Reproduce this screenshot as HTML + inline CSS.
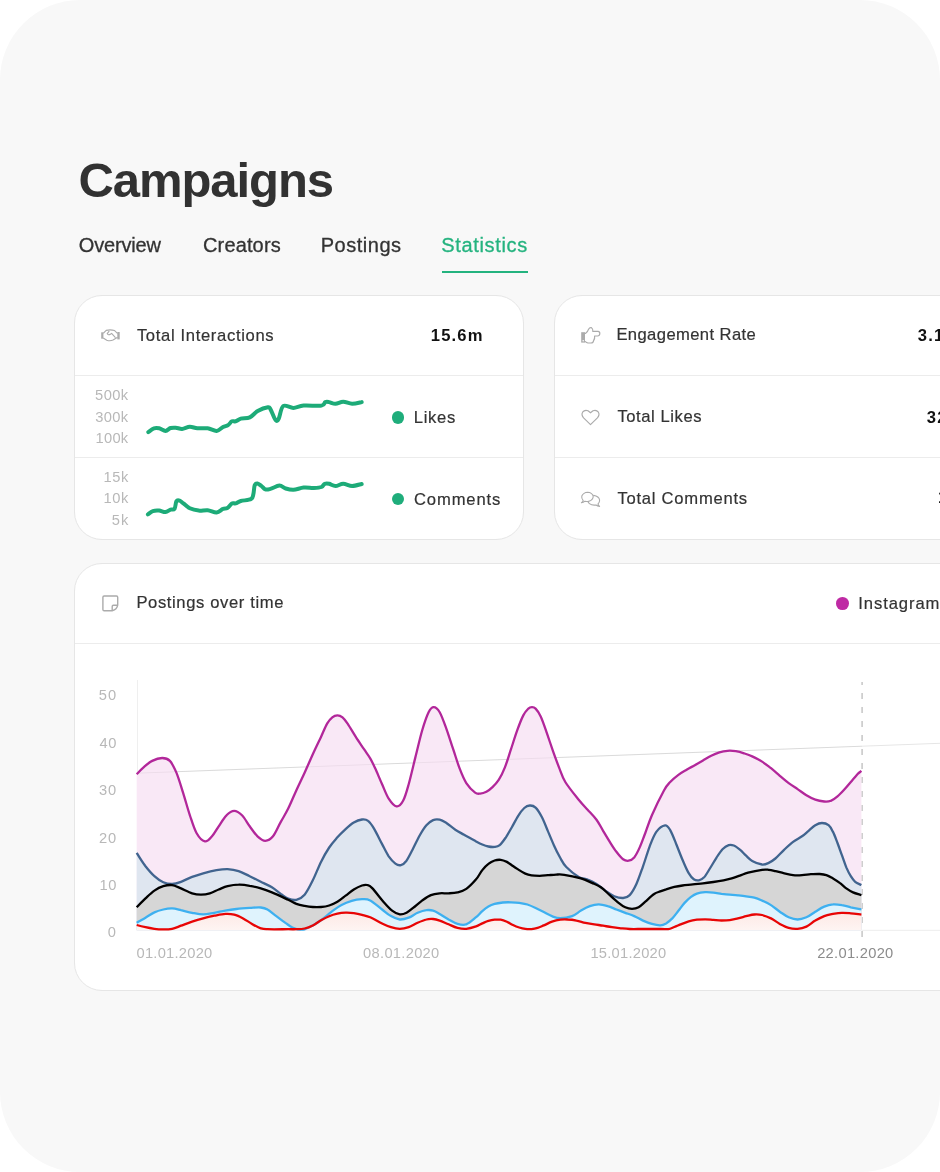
<!DOCTYPE html>
<html lang="en">
<head>
<meta charset="utf-8">
<title>Campaigns – Statistics</title>
<style>
html,body{margin:0;padding:0;background:#ffffff}
body{width:940px;height:1172px;position:relative;overflow:hidden;font-family:"Liberation Sans",sans-serif}
.frame{position:absolute;left:0;top:0;width:940px;height:1172px;background:#f8f8f8;border-radius:80px;overflow:hidden}
.abs{position:absolute}
.card{position:absolute;box-sizing:border-box;background:#ffffff;border:1px solid #e6e6e6;border-radius:28px}
.hr{position:absolute;left:0;right:0;height:1px;background:#ececec}
.t{position:absolute;white-space:nowrap;line-height:1;margin:0}
.dot{position:absolute;border-radius:50%}
.tab{-webkit-text-stroke:0.3px currentColor}
.lb{-webkit-text-stroke:0.2px currentColor}
.uline{position:absolute;left:442.4px;top:271.3px;width:85.5px;height:1.6px;background:#24b37f}
#t_title{left:78.40px;top:156.00px;font-size:49px;font-weight:700;color:#323232;letter-spacing:-1.064px}
#t_tab1{left:78.80px;top:235.00px;font-size:20px;font-weight:400;color:#333333;letter-spacing:-0.187px}
#t_tab2{left:203.00px;top:235.00px;font-size:20px;font-weight:400;color:#333333;letter-spacing:0.143px}
#t_tab3{left:320.75px;top:235.00px;font-size:20px;font-weight:400;color:#333333;letter-spacing:0.509px}
#t_tab4{left:441.21px;top:235.00px;font-size:20px;font-weight:400;color:#24b37f;letter-spacing:0.661px}
#t_ti{left:136.88px;top:328.00px;font-size:16.6px;font-weight:400;color:#333333;letter-spacing:0.665px}
#t_tiv{left:430.80px;top:328.00px;font-size:16.6px;font-weight:700;color:#111;letter-spacing:1.158px}
#t_a1{left:95.12px;top:388.00px;font-size:14.7px;font-weight:400;color:#b8b8b8;letter-spacing:0.378px}
#t_a2{left:95.24px;top:410.00px;font-size:14.7px;font-weight:400;color:#b8b8b8;letter-spacing:0.342px}
#t_a3{left:95.60px;top:431.00px;font-size:14.7px;font-weight:400;color:#b8b8b8;letter-spacing:0.230px}
#t_b1{left:103.60px;top:470.00px;font-size:14.7px;font-weight:400;color:#b8b8b8;letter-spacing:0.500px}
#t_b2{left:103.60px;top:491.00px;font-size:14.7px;font-weight:400;color:#b8b8b8;letter-spacing:0.500px}
#t_b3{left:111.81px;top:513.00px;font-size:14.7px;font-weight:400;color:#b8b8b8;letter-spacing:0.910px}
#t_likes{left:413.80px;top:410.00px;font-size:16.6px;font-weight:400;color:#333333;letter-spacing:0.699px}
#t_comm{left:414.00px;top:492.00px;font-size:16.6px;font-weight:400;color:#333333;letter-spacing:0.874px}
#t_er{left:616.40px;top:327.00px;font-size:16.6px;font-weight:400;color:#333333;letter-spacing:0.401px}
#t_tl{left:617.38px;top:409.00px;font-size:16.6px;font-weight:400;color:#333333;letter-spacing:0.571px}
#t_tc{left:617.38px;top:491.00px;font-size:16.6px;font-weight:400;color:#333333;letter-spacing:0.762px}
#t_erv{left:917.82px;top:328.00px;font-size:16.6px;font-weight:700;color:#111;letter-spacing:1.150px}
#t_tlv{left:926.82px;top:410.00px;font-size:16.6px;font-weight:700;color:#111;letter-spacing:1.150px}
#t_tcv{left:937.90px;top:490.00px;font-size:16.6px;font-weight:700;color:#111;letter-spacing:1.150px}
#t_pot{left:136.40px;top:595.00px;font-size:16.6px;font-weight:400;color:#333333;letter-spacing:0.618px}
#t_ig{left:858.19px;top:596.00px;font-size:16.6px;font-weight:400;color:#333333;letter-spacing:0.934px}
#t_y50{left:98.81px;top:688.00px;font-size:14.7px;font-weight:400;color:#b8b8b8;letter-spacing:1.010px}
#t_y40{left:99.41px;top:736.00px;font-size:14.7px;font-weight:400;color:#b8b8b8;letter-spacing:0.615px}
#t_y30{left:98.94px;top:783.00px;font-size:14.7px;font-weight:400;color:#b8b8b8;letter-spacing:0.900px}
#t_y20{left:98.94px;top:831.00px;font-size:14.7px;font-weight:400;color:#b8b8b8;letter-spacing:0.900px}
#t_y10{left:99.40px;top:878.00px;font-size:14.7px;font-weight:400;color:#b8b8b8;letter-spacing:0.705px}
#t_y0{left:107.78px;top:925.00px;font-size:14.7px;font-weight:400;color:#b8b8b8;letter-spacing:0.000px}
#t_x1{left:136.47px;top:946.00px;font-size:14.7px;font-weight:400;color:#b8b8b8;letter-spacing:0.251px}
#t_x2{left:363.08px;top:946.00px;font-size:14.7px;font-weight:400;color:#b8b8b8;letter-spacing:0.294px}
#t_x3{left:590.40px;top:946.00px;font-size:14.7px;font-weight:400;color:#b8b8b8;letter-spacing:0.249px}
#t_x4{left:817.13px;top:946.00px;font-size:14.7px;font-weight:400;color:#8c8c8c;letter-spacing:0.292px}
</style>
</head>
<body>
<div class="frame">
  <h1 style="margin:0"><span class="t" id="t_title">Campaigns</span></h1>
  <nav>
    <span class="t tab" id="t_tab1">Overview</span><span class="t tab" id="t_tab2">Creators</span><span class="t tab" id="t_tab3">Postings</span><span class="t tab" id="t_tab4">Statistics</span>
    <div class="uline"></div>
  </nav>

  <section class="card" style="left:74px;top:295px;width:450px;height:245px">
    <div class="hr" style="top:79px"></div>
    <div class="hr" style="top:161px"></div>
  </section>
  <section class="card" style="left:554px;top:295px;width:450px;height:245px">
    <div class="hr" style="top:79px"></div>
    <div class="hr" style="top:161px"></div>
  </section>
  <section class="card" style="left:74px;top:563px;width:930px;height:428px">
    <div class="hr" style="top:79px"></div>
  </section>

  
<svg class="abs" style="left:0;top:0" width="940" height="1172" viewBox="0 0 940 1172">
  <defs>
    <linearGradient id="redfill" gradientUnits="userSpaceOnUse" x1="0" y1="908" x2="0" y2="931">
      <stop offset="0" stop-color="#fde6e2"/>
      <stop offset="1" stop-color="#fef5f3"/>
    </linearGradient>
  </defs>
  <g fill="none">
    <path d="M137.5 680V930" stroke="#efefef" stroke-width="1"/>
    <path d="M862 930.3H940" stroke="#ededed" stroke-width="1"/>
    <path d="M137 773.2L940 743.3" stroke="#e6e6e6" stroke-width="1"/>
    <path d="M862.1 682V937" stroke="#c9c9c9" stroke-width="1.6" stroke-dasharray="6 8" stroke-dashoffset="3"/>
  </g>
  <g stroke="none">
    <path d="M136.7 774.2C137.8 773.1 140.7 769.8 143.3 767.6C145.9 765.4 149.0 762.5 152.2 760.9C155.3 759.3 159.2 758.0 162.2 758.0C165.1 758.0 167.5 758.4 169.9 760.9C172.3 763.4 174.3 767.8 176.6 773.1C178.8 778.5 181.0 786.1 183.2 793.1C185.4 800.1 187.6 808.6 189.9 815.3C192.1 821.9 194.0 828.6 196.5 833.0C199.0 837.4 202.4 840.9 204.9 841.4C207.5 842.0 209.7 838.8 212.0 836.3C214.3 833.8 216.3 829.9 218.7 826.3C221.1 822.8 223.9 817.8 226.5 815.3C229.0 812.7 231.6 810.8 234.2 810.8C236.8 810.8 239.4 812.7 242.0 815.3C244.6 817.8 247.1 822.8 249.7 826.3C252.3 829.9 254.9 833.9 257.5 836.3C260.1 838.7 262.7 840.8 265.3 840.8C267.8 840.8 270.4 839.5 273.0 836.3C275.6 833.2 278.2 826.5 280.8 821.9C283.3 817.3 285.6 813.9 288.2 808.6C290.8 803.3 293.7 796.2 296.4 790.2C299.1 784.2 301.9 778.7 304.6 772.7C307.3 766.7 310.1 760.3 312.8 754.3C315.5 748.3 318.6 742.0 321.0 736.9C323.4 731.8 325.2 726.9 327.1 723.6C329.0 720.4 330.6 718.8 332.3 717.4C334.0 716.0 335.7 715.4 337.4 715.4C339.1 715.4 340.8 716.0 342.5 717.4C344.2 718.8 345.4 720.4 347.6 723.6C349.8 726.9 353.1 732.6 355.8 736.9C358.5 741.2 361.6 745.6 364.0 749.2C366.4 752.8 368.3 755.2 370.2 758.4C372.1 761.6 373.3 764.3 375.3 768.6C377.3 772.9 379.8 779.2 382.1 784.2C384.3 789.2 386.3 794.9 388.7 798.6C391.1 802.3 394.1 806.0 396.5 806.4C398.9 806.8 401.1 804.5 403.1 800.8C405.2 797.1 406.7 791.4 408.7 784.2C410.7 777.0 413.1 766.5 415.3 757.6C417.6 748.7 419.8 738.6 422.0 731.0C424.2 723.4 426.7 716.1 428.6 712.2C430.6 708.2 431.9 707.1 433.7 707.1C435.6 707.1 437.6 708.5 439.7 712.2C441.8 715.8 444.2 722.7 446.4 728.8C448.6 734.9 450.8 742.1 453.0 748.7C455.3 755.4 457.5 763.0 459.7 768.7C461.9 774.4 463.8 779.1 466.3 783.1C468.9 787.1 472.8 790.9 475.1 792.6C477.4 794.3 478.3 793.7 480.2 793.6C482.1 793.5 484.3 792.9 486.4 791.8C488.4 790.7 490.4 789.1 492.5 787.1C494.6 785.1 496.6 783.1 498.7 779.9C500.8 776.6 502.8 772.7 504.8 767.6C506.9 762.5 508.9 755.4 511.0 749.2C513.0 743.1 515.1 736.3 517.1 730.7C519.1 725.1 521.4 719.1 523.3 715.4C525.2 711.7 527.0 710.0 528.4 708.6C529.8 707.2 530.7 707.2 531.9 707.2C533.1 707.2 534.1 707.1 535.6 708.6C537.1 710.1 538.8 712.4 540.7 716.4C542.6 720.4 544.8 727.0 546.8 732.8C548.8 738.6 551.0 745.4 553.0 751.2C555.0 757.0 557.1 762.5 559.1 767.6C561.1 772.7 562.0 776.6 565.3 782.0C568.6 787.4 575.0 795.1 578.7 799.7C582.5 804.4 584.6 806.4 587.6 809.7C590.6 813.0 593.9 816.2 596.5 819.7C599.1 823.2 600.9 827.1 603.1 830.8C605.3 834.5 607.6 838.4 609.8 841.9C612.0 845.4 614.2 849.0 616.4 851.8C618.6 854.7 621.0 857.7 623.1 859.2C625.1 860.6 626.8 861.0 628.6 860.7C630.5 860.4 632.3 859.6 634.2 857.4C636.0 855.2 637.9 851.5 639.7 847.4C641.6 843.3 643.2 838.4 645.3 833.0C647.3 827.6 648.8 822.4 651.9 815.3C655.0 808.1 661.1 795.7 664.1 790.2C667.1 784.7 667.8 784.6 670.2 782.0C672.6 779.4 675.7 776.8 678.4 774.8C681.1 772.8 683.9 771.3 686.6 769.7C689.3 768.1 692.1 766.7 694.8 765.2C697.5 763.7 700.3 762.1 703.0 760.5C705.7 758.9 708.5 757.1 711.2 755.7C713.9 754.3 716.7 753.1 719.4 752.3C722.1 751.5 724.9 751.0 727.6 750.8C730.3 750.6 733.1 750.8 735.8 751.2C738.5 751.6 741.3 752.4 744.0 753.3C746.7 754.2 749.2 755.0 752.2 756.4C755.2 757.8 759.0 759.6 762.1 761.6C765.2 763.6 768.0 765.9 771.0 768.2C773.9 770.6 776.9 773.3 779.8 775.8C782.8 778.3 785.7 780.9 788.7 783.1C791.6 785.3 794.6 787.1 797.6 789.1C800.5 791.1 803.5 793.5 806.4 795.3C809.4 797.1 812.3 798.7 815.3 799.7C818.3 800.8 821.6 801.3 824.2 801.5C826.8 801.7 828.6 801.7 830.8 800.8C833.0 800.0 835.3 798.3 837.5 796.4C839.7 794.6 841.9 792.2 844.1 789.8C846.3 787.4 848.6 784.6 850.8 782.0C853.0 779.4 855.7 776.1 857.4 774.2C859.2 772.4 860.8 771.5 861.4 770.9L861.4 930.3L136.7 930.3Z" fill="#f9e8f6"/>
    <path d="M136.7 852.9C138.1 855.2 142.6 862.4 145.5 866.3C148.5 870.1 151.4 873.6 154.4 876.2C157.3 878.9 160.3 880.9 163.3 882.2C166.2 883.5 169.2 884.1 172.1 884.0C175.1 883.9 177.7 883.0 181.0 881.8C184.3 880.6 188.4 878.3 192.1 876.9C195.8 875.5 199.1 874.5 203.2 873.3C207.2 872.2 212.4 870.9 216.5 870.2C220.5 869.5 223.9 869.0 227.6 869.1C231.3 869.3 235.0 869.9 238.6 871.1C242.3 872.3 246.0 874.5 249.7 876.2C253.4 878.0 257.1 879.9 260.8 881.8C264.5 883.6 268.6 885.3 271.9 887.3C275.2 889.3 278.1 892.1 280.8 894.0C283.5 895.8 285.6 897.6 288.2 898.6C290.8 899.6 293.7 900.4 296.4 899.8C299.1 899.1 301.9 898.0 304.6 894.7C307.3 891.5 310.1 885.8 312.8 880.3C315.5 874.8 318.3 867.4 321.0 861.9C323.7 856.4 326.5 851.6 329.2 847.5C331.9 843.4 334.7 840.4 337.4 837.3C340.1 834.2 342.9 831.6 345.6 829.1C348.3 826.6 351.1 824.1 353.8 822.5C356.5 820.9 359.6 819.8 362.0 819.5C364.4 819.2 366.1 819.3 368.1 820.9C370.2 822.5 372.0 825.2 374.3 829.1C376.6 833.0 379.7 839.6 382.1 844.1C384.5 848.6 386.5 853.0 388.7 856.3C391.0 859.5 393.4 862.1 395.4 863.6C397.4 865.1 399.1 865.6 400.9 865.1C402.8 864.7 404.4 863.5 406.5 860.7C408.5 857.9 410.9 852.8 413.1 848.5C415.3 844.3 417.6 839.1 419.8 835.2C422.0 831.3 424.2 827.7 426.4 825.2C428.6 822.7 430.9 821.1 433.1 820.1C435.3 819.2 437.5 819.2 439.7 819.7C442.0 820.2 443.8 821.4 446.4 823.0C449.0 824.7 452.3 827.7 455.3 829.7C458.2 831.6 460.6 832.8 464.1 834.8C467.6 836.7 473.1 839.8 476.1 841.4C479.1 843.0 480.2 843.6 482.3 844.5C484.4 845.4 486.3 846.1 488.4 846.5C490.4 846.9 492.7 847.1 494.6 846.9C496.5 846.7 497.8 846.7 499.7 845.1C501.6 843.5 503.8 840.3 505.9 837.3C507.9 834.3 509.9 830.6 512.0 827.0C514.0 823.4 516.2 819.0 518.2 815.8C520.2 812.6 522.4 809.7 524.3 808.0C526.2 806.3 527.9 805.6 529.8 805.5C531.7 805.4 533.6 805.7 535.6 807.6C537.6 809.5 539.7 812.9 541.7 816.8C543.8 820.7 545.9 826.3 547.9 831.1C549.9 835.9 552.0 841.0 554.0 845.5C556.0 850.0 558.2 854.2 560.2 857.8C562.2 861.4 563.2 863.8 566.3 867.0C569.4 870.2 575.2 874.8 578.7 876.9C582.3 879.0 584.6 878.4 587.6 879.6C590.6 880.7 593.5 882.1 596.5 884.0C599.4 885.8 602.4 888.6 605.3 890.6C608.3 892.7 611.3 895.0 614.2 896.2C617.2 897.4 620.5 898.1 623.1 898.0C625.7 897.8 627.5 897.4 629.7 895.1C632.0 892.7 634.2 888.8 636.4 884.0C638.6 879.2 640.8 872.5 643.0 866.3C645.3 860.0 647.5 852.0 649.7 846.3C651.9 840.6 653.8 835.4 656.3 831.9C658.9 828.4 662.8 825.7 665.1 825.4C667.4 825.1 668.3 826.9 670.2 830.1C672.1 833.3 674.4 839.5 676.4 844.5C678.4 849.5 680.5 855.0 682.5 859.8C684.5 864.6 686.8 870.0 688.7 873.2C690.6 876.5 692.1 878.1 693.8 879.3C695.5 880.5 697.2 880.6 698.9 880.3C700.6 880.0 702.2 879.3 704.1 877.3C706.0 875.2 708.2 871.2 710.2 868.0C712.2 864.8 714.4 860.9 716.4 857.8C718.4 854.7 720.5 851.3 722.5 849.2C724.5 847.1 726.8 845.7 728.7 845.1C730.6 844.5 731.9 844.8 733.8 845.5C735.7 846.2 737.8 847.9 739.9 849.6C742.0 851.3 744.0 853.8 746.1 855.7C748.2 857.6 749.5 859.4 752.2 860.9C754.9 862.4 759.3 864.1 762.1 864.5C764.8 864.8 766.5 863.9 768.7 862.9C771.0 861.9 772.8 860.7 775.4 858.5C778.0 856.3 781.3 852.4 784.3 849.6C787.2 846.9 790.2 844.1 793.1 841.9C796.1 839.6 799.4 838.2 802.0 836.3C804.6 834.5 806.4 832.6 808.6 830.8C810.9 828.9 813.1 826.5 815.3 825.2C817.5 823.9 819.7 823.0 822.0 823.0C824.2 823.0 826.8 823.8 828.6 825.2C830.5 826.7 831.6 828.9 833.0 831.9C834.5 834.8 836.0 839.1 837.5 843.0C839.0 846.9 840.4 851.1 841.9 855.2C843.4 859.2 844.9 863.9 846.3 867.4C847.8 870.9 849.3 873.8 850.8 876.2C852.3 878.6 853.4 880.3 855.2 881.8C857.0 883.3 860.4 884.5 861.4 885.1L861.4 930.3L136.7 930.3Z" fill="#dfe6f0"/>
    <path d="M136.7 907.3C138.1 905.8 142.6 901.2 145.5 898.4C148.5 895.6 151.4 892.7 154.4 890.6C157.3 888.6 160.3 887.1 163.3 886.2C166.2 885.3 169.2 884.7 172.1 885.1C175.1 885.5 177.7 887.1 181.0 888.4C184.3 889.8 188.8 892.3 192.1 893.3C195.4 894.3 198.0 894.6 201.0 894.6C203.9 894.6 206.9 894.2 209.8 893.3C212.8 892.5 215.7 890.7 218.7 889.5C221.6 888.4 224.2 887.0 227.6 886.2C230.9 885.4 235.0 884.7 238.6 884.7C242.3 884.6 246.0 885.1 249.7 885.8C253.4 886.4 257.1 887.3 260.8 888.4C264.5 889.5 267.3 890.5 271.9 892.4C276.5 894.3 284.1 897.9 288.2 899.8C292.3 901.7 293.7 902.9 296.4 903.9C299.1 904.9 301.9 905.4 304.6 905.9C307.3 906.4 310.1 906.8 312.8 907.0C315.5 907.2 318.3 907.2 321.0 907.0C323.7 906.8 326.5 906.4 329.2 905.5C331.9 904.6 334.7 903.4 337.4 901.8C340.1 900.2 342.9 897.8 345.6 895.7C348.3 893.7 351.1 891.2 353.8 889.5C356.5 887.8 359.8 886.2 362.0 885.5C364.2 884.8 365.4 884.6 367.1 885.0C368.8 885.4 369.3 885.1 372.2 888.1C375.1 891.1 381.0 899.1 384.3 902.8C387.6 906.6 389.5 908.7 392.1 910.6C394.6 912.5 397.4 914.0 399.8 914.4C402.2 914.7 404.3 913.9 406.5 912.8C408.7 911.7 410.5 910.0 413.1 907.9C415.7 905.9 419.0 902.8 422.0 900.6C425.0 898.5 427.9 896.3 430.9 895.1C433.8 893.9 436.8 893.6 439.7 893.3C442.7 893.0 445.6 893.5 448.6 893.3C451.6 893.2 454.5 893.2 457.5 892.4C460.4 891.7 463.2 891.1 466.3 888.9C469.4 886.7 473.4 882.4 476.1 879.3C478.8 876.2 480.2 872.7 482.3 870.1C484.4 867.5 486.3 865.5 488.4 863.9C490.4 862.3 492.6 861.2 494.6 860.5C496.7 859.8 498.6 859.6 500.7 859.8C502.8 860.0 504.8 860.9 506.9 861.9C508.9 862.9 510.9 864.6 513.0 866.0C515.0 867.4 517.2 868.8 519.2 870.1C521.2 871.4 523.2 872.7 525.3 873.6C527.3 874.5 529.1 875.0 531.5 875.4C533.9 875.8 537.0 875.8 539.7 875.8C542.4 875.8 545.2 875.4 547.9 875.2C550.6 875.0 553.4 874.7 556.1 874.6C558.8 874.5 560.2 874.2 564.3 874.8C568.4 875.4 576.3 877.1 581.0 878.4C585.6 879.8 588.7 881.4 592.0 882.9C595.4 884.4 598.0 885.3 600.9 887.3C603.9 889.3 606.8 892.5 609.8 895.1C612.7 897.7 616.1 900.8 618.6 902.8C621.2 904.9 623.1 906.3 625.3 907.3C627.5 908.3 629.7 908.8 632.0 908.8C634.2 908.8 636.4 908.5 638.6 907.3C640.8 906.1 642.7 903.9 645.3 901.7C647.8 899.5 651.6 895.7 654.1 894.0C656.6 892.2 658.2 892.2 660.2 891.4C662.2 890.6 663.8 890.0 666.1 889.3C668.5 888.5 671.6 887.5 674.3 886.9C677.0 886.3 679.4 885.9 682.5 885.5C685.6 885.1 689.4 884.8 692.8 884.4C696.2 884.0 699.6 883.8 703.0 883.4C706.4 883.0 709.9 882.5 713.3 882.0C716.7 881.5 720.4 880.9 723.5 880.3C726.6 879.7 729.0 879.1 731.7 878.3C734.4 877.5 737.2 876.5 739.9 875.6C742.6 874.7 744.4 873.7 748.1 872.7C751.8 871.7 758.6 870.3 762.1 869.8C765.5 869.3 766.5 869.6 768.7 869.8C771.0 870.0 772.8 870.5 775.4 871.1C778.0 871.7 781.3 872.7 784.3 873.3C787.2 874.0 790.2 874.8 793.1 875.1C796.1 875.4 799.0 875.3 802.0 875.1C805.0 875.0 807.9 874.4 810.9 874.2C813.8 874.1 817.1 873.9 819.7 874.0C822.3 874.2 824.2 874.4 826.4 875.1C828.6 875.9 830.8 877.2 833.0 878.4C835.3 879.7 837.5 881.2 839.7 882.9C841.9 884.5 844.1 886.8 846.3 888.4C848.6 890.0 850.5 891.3 853.0 892.4C855.5 893.5 860.0 894.6 861.4 895.1L861.4 930.3L136.7 930.3Z" fill="#d6d6d6"/>
    <path d="M136.7 922.8C138.1 921.9 142.6 919.4 145.5 917.7C148.5 916.0 151.4 913.7 154.4 912.4C157.3 911.0 160.3 910.2 163.3 909.5C166.2 908.8 169.2 908.3 172.1 908.4C175.1 908.5 177.7 909.4 181.0 910.2C184.3 910.9 188.4 912.1 192.1 912.8C195.8 913.5 199.5 914.4 203.2 914.4C206.9 914.4 210.6 913.4 214.3 912.8C218.0 912.2 221.6 911.2 225.3 910.6C229.0 910.0 232.4 909.5 236.4 909.0C240.5 908.6 245.7 908.2 249.7 907.9C253.8 907.7 257.9 907.2 260.8 907.5C263.8 907.8 264.9 908.0 267.5 909.5C270.1 910.9 273.2 913.8 276.3 916.1C279.4 918.5 283.4 921.5 286.1 923.4C288.8 925.3 290.4 926.5 292.3 927.5C294.2 928.5 295.4 929.0 297.5 929.3C299.6 929.6 302.1 929.9 304.6 929.3C307.2 928.6 310.1 926.9 312.8 925.4C315.5 923.9 318.6 922.0 321.0 920.3C323.4 918.6 325.2 916.9 327.1 915.4C329.0 913.9 329.9 912.9 332.3 911.1C334.7 909.4 338.3 906.6 341.5 904.9C344.7 903.2 348.3 901.8 351.7 900.8C355.1 899.8 358.9 899.3 362.0 899.2C365.1 899.1 366.9 898.7 370.2 900.4C373.5 902.1 378.6 906.9 382.1 909.5C385.5 912.1 388.0 914.5 391.0 916.1C393.9 917.8 396.9 919.2 399.8 919.5C402.8 919.7 405.7 918.8 408.7 917.7C411.6 916.6 414.6 914.1 417.6 912.8C420.5 911.6 423.8 910.5 426.4 910.2C429.0 909.8 430.9 910.0 433.1 910.6C435.3 911.2 437.1 912.4 439.7 913.9C442.3 915.4 445.6 917.8 448.6 919.5C451.6 921.1 454.5 923.1 457.5 923.9C460.4 924.7 463.2 925.5 466.3 924.3C469.4 923.2 473.4 919.4 476.1 917.2C478.8 915.0 480.2 912.9 482.3 911.1C484.4 909.3 486.3 907.8 488.4 906.6C490.4 905.4 492.2 904.6 494.6 903.9C497.0 903.2 500.1 902.8 502.8 902.5C505.5 902.2 508.3 902.2 511.0 902.3C513.7 902.4 516.5 902.5 519.2 902.9C521.9 903.3 524.7 903.6 527.4 904.5C530.1 905.4 532.9 906.7 535.6 908.0C538.3 909.3 541.1 910.7 543.8 912.1C546.5 913.5 549.3 915.2 552.0 916.2C554.7 917.2 556.9 918.2 560.2 918.2C563.5 918.2 568.6 917.4 572.1 916.1C575.5 914.9 578.0 912.3 581.0 910.6C583.9 908.9 586.9 907.2 589.8 906.2C592.8 905.1 595.7 904.4 598.7 904.4C601.6 904.4 604.6 905.3 607.6 906.2C610.5 907.0 613.5 908.4 616.4 909.5C619.4 910.6 622.3 911.7 625.3 912.8C628.3 913.9 631.2 914.8 634.2 916.1C637.1 917.4 640.1 919.3 643.0 920.6C646.0 921.9 649.0 923.1 651.9 923.9C654.8 924.7 657.9 925.4 660.3 925.3C662.7 925.2 664.1 924.5 666.1 923.4C668.1 922.2 670.2 920.5 672.3 918.4C674.3 916.3 676.3 913.4 678.4 910.8C680.5 908.2 682.5 905.2 684.6 902.9C686.7 900.6 688.7 898.6 690.7 897.1C692.8 895.6 694.5 894.4 696.9 893.6C699.3 892.8 702.4 892.4 705.1 892.2C707.8 892.0 710.6 892.3 713.3 892.6C716.0 892.9 718.8 893.5 721.5 893.9C724.2 894.2 727.0 894.5 729.7 894.7C732.4 894.9 735.2 895.0 737.9 895.3C740.6 895.6 743.4 895.9 746.1 896.3C748.8 896.7 751.6 897.0 754.3 897.7C757.0 898.4 759.3 899.4 762.1 900.6C764.9 901.8 768.0 903.2 771.0 905.1C773.9 906.9 776.9 909.7 779.8 911.7C782.8 913.7 785.7 916.0 788.7 917.3C791.6 918.5 794.6 919.5 797.6 919.5C800.5 919.5 803.5 918.5 806.4 917.3C809.4 916.0 812.3 913.5 815.3 911.7C818.3 909.9 821.2 907.8 824.2 906.6C827.1 905.4 830.1 904.6 833.0 904.4C836.0 904.1 839.0 904.6 841.9 905.1C844.9 905.5 847.5 906.5 850.8 907.3C854.0 908.0 859.6 909.1 861.4 909.5L861.4 930.3L136.7 930.3Z" fill="#dff3fd"/>
    <path d="M136.7 925.0C138.1 925.4 142.6 926.6 145.5 927.2C148.5 927.9 151.4 928.4 154.4 928.8C157.3 929.2 160.3 929.4 163.3 929.4C166.2 929.4 169.2 929.4 172.1 928.8C175.1 928.2 177.7 926.9 181.0 925.7C184.3 924.5 188.4 922.9 192.1 921.7C195.8 920.5 199.5 919.4 203.2 918.4C206.9 917.4 210.6 916.4 214.3 915.7C218.0 915.0 222.0 914.1 225.3 913.9C228.7 913.7 231.3 913.9 234.2 914.6C237.2 915.3 240.1 916.8 243.1 918.4C246.0 919.9 249.0 922.2 252.0 923.9C254.9 925.6 258.2 927.5 260.8 928.3C263.4 929.2 262.9 929.1 267.5 929.2C272.0 929.4 283.4 929.2 288.2 929.2C293.0 929.2 293.7 929.3 296.4 929.2C299.1 929.1 301.9 929.1 304.6 928.5C307.3 927.9 310.1 926.8 312.8 925.4C315.5 924.0 318.3 921.8 321.0 920.3C323.7 918.8 326.5 917.3 329.2 916.2C331.9 915.1 334.7 914.3 337.4 913.7C340.1 913.1 342.9 912.8 345.6 912.7C348.3 912.6 351.1 912.8 353.8 913.1C356.5 913.5 359.3 914.1 362.0 914.8C364.7 915.5 366.9 915.8 370.2 917.2C373.5 918.6 378.6 921.8 382.1 923.5C385.5 925.1 388.0 926.3 391.0 927.2C393.9 928.1 396.9 928.8 399.8 928.8C402.8 928.8 405.7 928.2 408.7 927.2C411.6 926.2 414.6 924.1 417.6 922.8C420.5 921.5 423.8 920.1 426.4 919.5C429.0 918.8 430.9 918.8 433.1 919.0C435.3 919.2 437.1 919.7 439.7 920.6C442.3 921.5 445.6 923.1 448.6 924.3C451.6 925.6 454.5 927.2 457.5 927.9C460.4 928.6 463.2 929.0 466.3 928.8C469.4 928.5 473.4 927.3 476.1 926.4C478.8 925.5 480.2 924.3 482.3 923.4C484.4 922.5 486.3 921.5 488.4 920.9C490.4 920.3 492.6 919.9 494.6 919.7C496.7 919.5 498.6 919.4 500.7 919.7C502.8 920.0 504.8 920.8 506.9 921.7C508.9 922.6 510.9 924.0 513.0 925.0C515.0 926.0 517.2 926.9 519.2 927.5C521.2 928.1 523.2 928.6 525.3 928.9C527.3 929.2 529.5 929.3 531.5 929.1C533.5 928.9 535.6 928.5 537.6 927.9C539.6 927.3 541.4 926.4 543.8 925.4C546.2 924.4 549.3 922.7 552.0 921.7C554.7 920.8 557.6 920.1 560.2 919.7C562.8 919.3 564.9 919.3 567.6 919.5C570.4 919.6 573.6 920.0 576.5 920.6C579.5 921.1 582.4 922.2 585.4 922.8C588.3 923.4 591.3 923.9 594.3 924.3C597.2 924.8 600.2 925.2 603.1 925.7C606.1 926.2 609.0 926.8 612.0 927.2C615.0 927.7 617.9 928.0 620.9 928.3C623.8 928.6 626.0 928.9 629.7 929.0C633.4 929.1 637.9 929.0 643.0 929.0C648.2 929.0 656.6 929.0 660.8 929.0C665.0 929.0 665.9 929.4 668.2 929.1C670.5 928.8 672.2 927.8 674.3 927.0C676.3 926.2 678.1 925.4 680.5 924.4C682.9 923.4 686.0 922.1 688.7 921.3C691.4 920.5 694.2 920.0 696.9 919.7C699.6 919.4 702.4 919.3 705.1 919.3C707.8 919.3 710.6 919.7 713.3 919.9C716.0 920.1 718.8 920.5 721.5 920.5C724.2 920.5 727.0 920.5 729.7 920.1C732.4 919.8 735.2 919.0 737.9 918.4C740.6 917.8 743.4 916.9 746.1 916.2C748.8 915.6 751.6 914.7 754.3 914.5C757.0 914.3 759.3 914.4 762.1 915.0C764.9 915.7 768.0 916.9 771.0 918.4C773.9 919.8 776.9 922.3 779.8 923.9C782.8 925.5 785.7 927.1 788.7 927.9C791.6 928.7 794.6 929.0 797.6 928.8C800.5 928.6 803.5 927.9 806.4 926.6C809.4 925.2 812.3 922.3 815.3 920.6C818.3 918.8 821.2 917.3 824.2 916.1C827.1 915.0 830.1 914.5 833.0 913.9C836.0 913.4 839.0 912.9 841.9 912.8C844.9 912.7 847.5 913.0 850.8 913.3C854.0 913.6 859.6 914.4 861.4 914.6L861.4 930.3L136.7 930.3Z" fill="url(#redfill)"/>
  </g>
  <path d="M137 773.2L862 746.2" stroke="#000" stroke-opacity="0.05" stroke-width="1" fill="none"/>
  <g fill="none" stroke-width="2.3" stroke-linejoin="round">
    <path d="M136.7 774.2C137.8 773.1 140.7 769.8 143.3 767.6C145.9 765.4 149.0 762.5 152.2 760.9C155.3 759.3 159.2 758.0 162.2 758.0C165.1 758.0 167.5 758.4 169.9 760.9C172.3 763.4 174.3 767.8 176.6 773.1C178.8 778.5 181.0 786.1 183.2 793.1C185.4 800.1 187.6 808.6 189.9 815.3C192.1 821.9 194.0 828.6 196.5 833.0C199.0 837.4 202.4 840.9 204.9 841.4C207.5 842.0 209.7 838.8 212.0 836.3C214.3 833.8 216.3 829.9 218.7 826.3C221.1 822.8 223.9 817.8 226.5 815.3C229.0 812.7 231.6 810.8 234.2 810.8C236.8 810.8 239.4 812.7 242.0 815.3C244.6 817.8 247.1 822.8 249.7 826.3C252.3 829.9 254.9 833.9 257.5 836.3C260.1 838.7 262.7 840.8 265.3 840.8C267.8 840.8 270.4 839.5 273.0 836.3C275.6 833.2 278.2 826.5 280.8 821.9C283.3 817.3 285.6 813.9 288.2 808.6C290.8 803.3 293.7 796.2 296.4 790.2C299.1 784.2 301.9 778.7 304.6 772.7C307.3 766.7 310.1 760.3 312.8 754.3C315.5 748.3 318.6 742.0 321.0 736.9C323.4 731.8 325.2 726.9 327.1 723.6C329.0 720.4 330.6 718.8 332.3 717.4C334.0 716.0 335.7 715.4 337.4 715.4C339.1 715.4 340.8 716.0 342.5 717.4C344.2 718.8 345.4 720.4 347.6 723.6C349.8 726.9 353.1 732.6 355.8 736.9C358.5 741.2 361.6 745.6 364.0 749.2C366.4 752.8 368.3 755.2 370.2 758.4C372.1 761.6 373.3 764.3 375.3 768.6C377.3 772.9 379.8 779.2 382.1 784.2C384.3 789.2 386.3 794.9 388.7 798.6C391.1 802.3 394.1 806.0 396.5 806.4C398.9 806.8 401.1 804.5 403.1 800.8C405.2 797.1 406.7 791.4 408.7 784.2C410.7 777.0 413.1 766.5 415.3 757.6C417.6 748.7 419.8 738.6 422.0 731.0C424.2 723.4 426.7 716.1 428.6 712.2C430.6 708.2 431.9 707.1 433.7 707.1C435.6 707.1 437.6 708.5 439.7 712.2C441.8 715.8 444.2 722.7 446.4 728.8C448.6 734.9 450.8 742.1 453.0 748.7C455.3 755.4 457.5 763.0 459.7 768.7C461.9 774.4 463.8 779.1 466.3 783.1C468.9 787.1 472.8 790.9 475.1 792.6C477.4 794.3 478.3 793.7 480.2 793.6C482.1 793.5 484.3 792.9 486.4 791.8C488.4 790.7 490.4 789.1 492.5 787.1C494.6 785.1 496.6 783.1 498.7 779.9C500.8 776.6 502.8 772.7 504.8 767.6C506.9 762.5 508.9 755.4 511.0 749.2C513.0 743.1 515.1 736.3 517.1 730.7C519.1 725.1 521.4 719.1 523.3 715.4C525.2 711.7 527.0 710.0 528.4 708.6C529.8 707.2 530.7 707.2 531.9 707.2C533.1 707.2 534.1 707.1 535.6 708.6C537.1 710.1 538.8 712.4 540.7 716.4C542.6 720.4 544.8 727.0 546.8 732.8C548.8 738.6 551.0 745.4 553.0 751.2C555.0 757.0 557.1 762.5 559.1 767.6C561.1 772.7 562.0 776.6 565.3 782.0C568.6 787.4 575.0 795.1 578.7 799.7C582.5 804.4 584.6 806.4 587.6 809.7C590.6 813.0 593.9 816.2 596.5 819.7C599.1 823.2 600.9 827.1 603.1 830.8C605.3 834.5 607.6 838.4 609.8 841.9C612.0 845.4 614.2 849.0 616.4 851.8C618.6 854.7 621.0 857.7 623.1 859.2C625.1 860.6 626.8 861.0 628.6 860.7C630.5 860.4 632.3 859.6 634.2 857.4C636.0 855.2 637.9 851.5 639.7 847.4C641.6 843.3 643.2 838.4 645.3 833.0C647.3 827.6 648.8 822.4 651.9 815.3C655.0 808.1 661.1 795.7 664.1 790.2C667.1 784.7 667.8 784.6 670.2 782.0C672.6 779.4 675.7 776.8 678.4 774.8C681.1 772.8 683.9 771.3 686.6 769.7C689.3 768.1 692.1 766.7 694.8 765.2C697.5 763.7 700.3 762.1 703.0 760.5C705.7 758.9 708.5 757.1 711.2 755.7C713.9 754.3 716.7 753.1 719.4 752.3C722.1 751.5 724.9 751.0 727.6 750.8C730.3 750.6 733.1 750.8 735.8 751.2C738.5 751.6 741.3 752.4 744.0 753.3C746.7 754.2 749.2 755.0 752.2 756.4C755.2 757.8 759.0 759.6 762.1 761.6C765.2 763.6 768.0 765.9 771.0 768.2C773.9 770.6 776.9 773.3 779.8 775.8C782.8 778.3 785.7 780.9 788.7 783.1C791.6 785.3 794.6 787.1 797.6 789.1C800.5 791.1 803.5 793.5 806.4 795.3C809.4 797.1 812.3 798.7 815.3 799.7C818.3 800.8 821.6 801.3 824.2 801.5C826.8 801.7 828.6 801.7 830.8 800.8C833.0 800.0 835.3 798.3 837.5 796.4C839.7 794.6 841.9 792.2 844.1 789.8C846.3 787.4 848.6 784.6 850.8 782.0C853.0 779.4 855.7 776.1 857.4 774.2C859.2 772.4 860.8 771.5 861.4 770.9" stroke="#b2279a"/>
    <path d="M136.7 852.9C138.1 855.2 142.6 862.4 145.5 866.3C148.5 870.1 151.4 873.6 154.4 876.2C157.3 878.9 160.3 880.9 163.3 882.2C166.2 883.5 169.2 884.1 172.1 884.0C175.1 883.9 177.7 883.0 181.0 881.8C184.3 880.6 188.4 878.3 192.1 876.9C195.8 875.5 199.1 874.5 203.2 873.3C207.2 872.2 212.4 870.9 216.5 870.2C220.5 869.5 223.9 869.0 227.6 869.1C231.3 869.3 235.0 869.9 238.6 871.1C242.3 872.3 246.0 874.5 249.7 876.2C253.4 878.0 257.1 879.9 260.8 881.8C264.5 883.6 268.6 885.3 271.9 887.3C275.2 889.3 278.1 892.1 280.8 894.0C283.5 895.8 285.6 897.6 288.2 898.6C290.8 899.6 293.7 900.4 296.4 899.8C299.1 899.1 301.9 898.0 304.6 894.7C307.3 891.5 310.1 885.8 312.8 880.3C315.5 874.8 318.3 867.4 321.0 861.9C323.7 856.4 326.5 851.6 329.2 847.5C331.9 843.4 334.7 840.4 337.4 837.3C340.1 834.2 342.9 831.6 345.6 829.1C348.3 826.6 351.1 824.1 353.8 822.5C356.5 820.9 359.6 819.8 362.0 819.5C364.4 819.2 366.1 819.3 368.1 820.9C370.2 822.5 372.0 825.2 374.3 829.1C376.6 833.0 379.7 839.6 382.1 844.1C384.5 848.6 386.5 853.0 388.7 856.3C391.0 859.5 393.4 862.1 395.4 863.6C397.4 865.1 399.1 865.6 400.9 865.1C402.8 864.7 404.4 863.5 406.5 860.7C408.5 857.9 410.9 852.8 413.1 848.5C415.3 844.3 417.6 839.1 419.8 835.2C422.0 831.3 424.2 827.7 426.4 825.2C428.6 822.7 430.9 821.1 433.1 820.1C435.3 819.2 437.5 819.2 439.7 819.7C442.0 820.2 443.8 821.4 446.4 823.0C449.0 824.7 452.3 827.7 455.3 829.7C458.2 831.6 460.6 832.8 464.1 834.8C467.6 836.7 473.1 839.8 476.1 841.4C479.1 843.0 480.2 843.6 482.3 844.5C484.4 845.4 486.3 846.1 488.4 846.5C490.4 846.9 492.7 847.1 494.6 846.9C496.5 846.7 497.8 846.7 499.7 845.1C501.6 843.5 503.8 840.3 505.9 837.3C507.9 834.3 509.9 830.6 512.0 827.0C514.0 823.4 516.2 819.0 518.2 815.8C520.2 812.6 522.4 809.7 524.3 808.0C526.2 806.3 527.9 805.6 529.8 805.5C531.7 805.4 533.6 805.7 535.6 807.6C537.6 809.5 539.7 812.9 541.7 816.8C543.8 820.7 545.9 826.3 547.9 831.1C549.9 835.9 552.0 841.0 554.0 845.5C556.0 850.0 558.2 854.2 560.2 857.8C562.2 861.4 563.2 863.8 566.3 867.0C569.4 870.2 575.2 874.8 578.7 876.9C582.3 879.0 584.6 878.4 587.6 879.6C590.6 880.7 593.5 882.1 596.5 884.0C599.4 885.8 602.4 888.6 605.3 890.6C608.3 892.7 611.3 895.0 614.2 896.2C617.2 897.4 620.5 898.1 623.1 898.0C625.7 897.8 627.5 897.4 629.7 895.1C632.0 892.7 634.2 888.8 636.4 884.0C638.6 879.2 640.8 872.5 643.0 866.3C645.3 860.0 647.5 852.0 649.7 846.3C651.9 840.6 653.8 835.4 656.3 831.9C658.9 828.4 662.8 825.7 665.1 825.4C667.4 825.1 668.3 826.9 670.2 830.1C672.1 833.3 674.4 839.5 676.4 844.5C678.4 849.5 680.5 855.0 682.5 859.8C684.5 864.6 686.8 870.0 688.7 873.2C690.6 876.5 692.1 878.1 693.8 879.3C695.5 880.5 697.2 880.6 698.9 880.3C700.6 880.0 702.2 879.3 704.1 877.3C706.0 875.2 708.2 871.2 710.2 868.0C712.2 864.8 714.4 860.9 716.4 857.8C718.4 854.7 720.5 851.3 722.5 849.2C724.5 847.1 726.8 845.7 728.7 845.1C730.6 844.5 731.9 844.8 733.8 845.5C735.7 846.2 737.8 847.9 739.9 849.6C742.0 851.3 744.0 853.8 746.1 855.7C748.2 857.6 749.5 859.4 752.2 860.9C754.9 862.4 759.3 864.1 762.1 864.5C764.8 864.8 766.5 863.9 768.7 862.9C771.0 861.9 772.8 860.7 775.4 858.5C778.0 856.3 781.3 852.4 784.3 849.6C787.2 846.9 790.2 844.1 793.1 841.9C796.1 839.6 799.4 838.2 802.0 836.3C804.6 834.5 806.4 832.6 808.6 830.8C810.9 828.9 813.1 826.5 815.3 825.2C817.5 823.9 819.7 823.0 822.0 823.0C824.2 823.0 826.8 823.8 828.6 825.2C830.5 826.7 831.6 828.9 833.0 831.9C834.5 834.8 836.0 839.1 837.5 843.0C839.0 846.9 840.4 851.1 841.9 855.2C843.4 859.2 844.9 863.9 846.3 867.4C847.8 870.9 849.3 873.8 850.8 876.2C852.3 878.6 853.4 880.3 855.2 881.8C857.0 883.3 860.4 884.5 861.4 885.1" stroke="#41648f"/>
    <path d="M136.7 907.3C138.1 905.8 142.6 901.2 145.5 898.4C148.5 895.6 151.4 892.7 154.4 890.6C157.3 888.6 160.3 887.1 163.3 886.2C166.2 885.3 169.2 884.7 172.1 885.1C175.1 885.5 177.7 887.1 181.0 888.4C184.3 889.8 188.8 892.3 192.1 893.3C195.4 894.3 198.0 894.6 201.0 894.6C203.9 894.6 206.9 894.2 209.8 893.3C212.8 892.5 215.7 890.7 218.7 889.5C221.6 888.4 224.2 887.0 227.6 886.2C230.9 885.4 235.0 884.7 238.6 884.7C242.3 884.6 246.0 885.1 249.7 885.8C253.4 886.4 257.1 887.3 260.8 888.4C264.5 889.5 267.3 890.5 271.9 892.4C276.5 894.3 284.1 897.9 288.2 899.8C292.3 901.7 293.7 902.9 296.4 903.9C299.1 904.9 301.9 905.4 304.6 905.9C307.3 906.4 310.1 906.8 312.8 907.0C315.5 907.2 318.3 907.2 321.0 907.0C323.7 906.8 326.5 906.4 329.2 905.5C331.9 904.6 334.7 903.4 337.4 901.8C340.1 900.2 342.9 897.8 345.6 895.7C348.3 893.7 351.1 891.2 353.8 889.5C356.5 887.8 359.8 886.2 362.0 885.5C364.2 884.8 365.4 884.6 367.1 885.0C368.8 885.4 369.3 885.1 372.2 888.1C375.1 891.1 381.0 899.1 384.3 902.8C387.6 906.6 389.5 908.7 392.1 910.6C394.6 912.5 397.4 914.0 399.8 914.4C402.2 914.7 404.3 913.9 406.5 912.8C408.7 911.7 410.5 910.0 413.1 907.9C415.7 905.9 419.0 902.8 422.0 900.6C425.0 898.5 427.9 896.3 430.9 895.1C433.8 893.9 436.8 893.6 439.7 893.3C442.7 893.0 445.6 893.5 448.6 893.3C451.6 893.2 454.5 893.2 457.5 892.4C460.4 891.7 463.2 891.1 466.3 888.9C469.4 886.7 473.4 882.4 476.1 879.3C478.8 876.2 480.2 872.7 482.3 870.1C484.4 867.5 486.3 865.5 488.4 863.9C490.4 862.3 492.6 861.2 494.6 860.5C496.7 859.8 498.6 859.6 500.7 859.8C502.8 860.0 504.8 860.9 506.9 861.9C508.9 862.9 510.9 864.6 513.0 866.0C515.0 867.4 517.2 868.8 519.2 870.1C521.2 871.4 523.2 872.7 525.3 873.6C527.3 874.5 529.1 875.0 531.5 875.4C533.9 875.8 537.0 875.8 539.7 875.8C542.4 875.8 545.2 875.4 547.9 875.2C550.6 875.0 553.4 874.7 556.1 874.6C558.8 874.5 560.2 874.2 564.3 874.8C568.4 875.4 576.3 877.1 581.0 878.4C585.6 879.8 588.7 881.4 592.0 882.9C595.4 884.4 598.0 885.3 600.9 887.3C603.9 889.3 606.8 892.5 609.8 895.1C612.7 897.7 616.1 900.8 618.6 902.8C621.2 904.9 623.1 906.3 625.3 907.3C627.5 908.3 629.7 908.8 632.0 908.8C634.2 908.8 636.4 908.5 638.6 907.3C640.8 906.1 642.7 903.9 645.3 901.7C647.8 899.5 651.6 895.7 654.1 894.0C656.6 892.2 658.2 892.2 660.2 891.4C662.2 890.6 663.8 890.0 666.1 889.3C668.5 888.5 671.6 887.5 674.3 886.9C677.0 886.3 679.4 885.9 682.5 885.5C685.6 885.1 689.4 884.8 692.8 884.4C696.2 884.0 699.6 883.8 703.0 883.4C706.4 883.0 709.9 882.5 713.3 882.0C716.7 881.5 720.4 880.9 723.5 880.3C726.6 879.7 729.0 879.1 731.7 878.3C734.4 877.5 737.2 876.5 739.9 875.6C742.6 874.7 744.4 873.7 748.1 872.7C751.8 871.7 758.6 870.3 762.1 869.8C765.5 869.3 766.5 869.6 768.7 869.8C771.0 870.0 772.8 870.5 775.4 871.1C778.0 871.7 781.3 872.7 784.3 873.3C787.2 874.0 790.2 874.8 793.1 875.1C796.1 875.4 799.0 875.3 802.0 875.1C805.0 875.0 807.9 874.4 810.9 874.2C813.8 874.1 817.1 873.9 819.7 874.0C822.3 874.2 824.2 874.4 826.4 875.1C828.6 875.9 830.8 877.2 833.0 878.4C835.3 879.7 837.5 881.2 839.7 882.9C841.9 884.5 844.1 886.8 846.3 888.4C848.6 890.0 850.5 891.3 853.0 892.4C855.5 893.5 860.0 894.6 861.4 895.1" stroke="#000000"/>
    <path d="M136.7 922.8C138.1 921.9 142.6 919.4 145.5 917.7C148.5 916.0 151.4 913.7 154.4 912.4C157.3 911.0 160.3 910.2 163.3 909.5C166.2 908.8 169.2 908.3 172.1 908.4C175.1 908.5 177.7 909.4 181.0 910.2C184.3 910.9 188.4 912.1 192.1 912.8C195.8 913.5 199.5 914.4 203.2 914.4C206.9 914.4 210.6 913.4 214.3 912.8C218.0 912.2 221.6 911.2 225.3 910.6C229.0 910.0 232.4 909.5 236.4 909.0C240.5 908.6 245.7 908.2 249.7 907.9C253.8 907.7 257.9 907.2 260.8 907.5C263.8 907.8 264.9 908.0 267.5 909.5C270.1 910.9 273.2 913.8 276.3 916.1C279.4 918.5 283.4 921.5 286.1 923.4C288.8 925.3 290.4 926.5 292.3 927.5C294.2 928.5 295.4 929.0 297.5 929.3C299.6 929.6 302.1 929.9 304.6 929.3C307.2 928.6 310.1 926.9 312.8 925.4C315.5 923.9 318.6 922.0 321.0 920.3C323.4 918.6 325.2 916.9 327.1 915.4C329.0 913.9 329.9 912.9 332.3 911.1C334.7 909.4 338.3 906.6 341.5 904.9C344.7 903.2 348.3 901.8 351.7 900.8C355.1 899.8 358.9 899.3 362.0 899.2C365.1 899.1 366.9 898.7 370.2 900.4C373.5 902.1 378.6 906.9 382.1 909.5C385.5 912.1 388.0 914.5 391.0 916.1C393.9 917.8 396.9 919.2 399.8 919.5C402.8 919.7 405.7 918.8 408.7 917.7C411.6 916.6 414.6 914.1 417.6 912.8C420.5 911.6 423.8 910.5 426.4 910.2C429.0 909.8 430.9 910.0 433.1 910.6C435.3 911.2 437.1 912.4 439.7 913.9C442.3 915.4 445.6 917.8 448.6 919.5C451.6 921.1 454.5 923.1 457.5 923.9C460.4 924.7 463.2 925.5 466.3 924.3C469.4 923.2 473.4 919.4 476.1 917.2C478.8 915.0 480.2 912.9 482.3 911.1C484.4 909.3 486.3 907.8 488.4 906.6C490.4 905.4 492.2 904.6 494.6 903.9C497.0 903.2 500.1 902.8 502.8 902.5C505.5 902.2 508.3 902.2 511.0 902.3C513.7 902.4 516.5 902.5 519.2 902.9C521.9 903.3 524.7 903.6 527.4 904.5C530.1 905.4 532.9 906.7 535.6 908.0C538.3 909.3 541.1 910.7 543.8 912.1C546.5 913.5 549.3 915.2 552.0 916.2C554.7 917.2 556.9 918.2 560.2 918.2C563.5 918.2 568.6 917.4 572.1 916.1C575.5 914.9 578.0 912.3 581.0 910.6C583.9 908.9 586.9 907.2 589.8 906.2C592.8 905.1 595.7 904.4 598.7 904.4C601.6 904.4 604.6 905.3 607.6 906.2C610.5 907.0 613.5 908.4 616.4 909.5C619.4 910.6 622.3 911.7 625.3 912.8C628.3 913.9 631.2 914.8 634.2 916.1C637.1 917.4 640.1 919.3 643.0 920.6C646.0 921.9 649.0 923.1 651.9 923.9C654.8 924.7 657.9 925.4 660.3 925.3C662.7 925.2 664.1 924.5 666.1 923.4C668.1 922.2 670.2 920.5 672.3 918.4C674.3 916.3 676.3 913.4 678.4 910.8C680.5 908.2 682.5 905.2 684.6 902.9C686.7 900.6 688.7 898.6 690.7 897.1C692.8 895.6 694.5 894.4 696.9 893.6C699.3 892.8 702.4 892.4 705.1 892.2C707.8 892.0 710.6 892.3 713.3 892.6C716.0 892.9 718.8 893.5 721.5 893.9C724.2 894.2 727.0 894.5 729.7 894.7C732.4 894.9 735.2 895.0 737.9 895.3C740.6 895.6 743.4 895.9 746.1 896.3C748.8 896.7 751.6 897.0 754.3 897.7C757.0 898.4 759.3 899.4 762.1 900.6C764.9 901.8 768.0 903.2 771.0 905.1C773.9 906.9 776.9 909.7 779.8 911.7C782.8 913.7 785.7 916.0 788.7 917.3C791.6 918.5 794.6 919.5 797.6 919.5C800.5 919.5 803.5 918.5 806.4 917.3C809.4 916.0 812.3 913.5 815.3 911.7C818.3 909.9 821.2 907.8 824.2 906.6C827.1 905.4 830.1 904.6 833.0 904.4C836.0 904.1 839.0 904.6 841.9 905.1C844.9 905.5 847.5 906.5 850.8 907.3C854.0 908.0 859.6 909.1 861.4 909.5" stroke="#3eb0f0"/>
    <path d="M136.7 925.0C138.1 925.4 142.6 926.6 145.5 927.2C148.5 927.9 151.4 928.4 154.4 928.8C157.3 929.2 160.3 929.4 163.3 929.4C166.2 929.4 169.2 929.4 172.1 928.8C175.1 928.2 177.7 926.9 181.0 925.7C184.3 924.5 188.4 922.9 192.1 921.7C195.8 920.5 199.5 919.4 203.2 918.4C206.9 917.4 210.6 916.4 214.3 915.7C218.0 915.0 222.0 914.1 225.3 913.9C228.7 913.7 231.3 913.9 234.2 914.6C237.2 915.3 240.1 916.8 243.1 918.4C246.0 919.9 249.0 922.2 252.0 923.9C254.9 925.6 258.2 927.5 260.8 928.3C263.4 929.2 262.9 929.1 267.5 929.2C272.0 929.4 283.4 929.2 288.2 929.2C293.0 929.2 293.7 929.3 296.4 929.2C299.1 929.1 301.9 929.1 304.6 928.5C307.3 927.9 310.1 926.8 312.8 925.4C315.5 924.0 318.3 921.8 321.0 920.3C323.7 918.8 326.5 917.3 329.2 916.2C331.9 915.1 334.7 914.3 337.4 913.7C340.1 913.1 342.9 912.8 345.6 912.7C348.3 912.6 351.1 912.8 353.8 913.1C356.5 913.5 359.3 914.1 362.0 914.8C364.7 915.5 366.9 915.8 370.2 917.2C373.5 918.6 378.6 921.8 382.1 923.5C385.5 925.1 388.0 926.3 391.0 927.2C393.9 928.1 396.9 928.8 399.8 928.8C402.8 928.8 405.7 928.2 408.7 927.2C411.6 926.2 414.6 924.1 417.6 922.8C420.5 921.5 423.8 920.1 426.4 919.5C429.0 918.8 430.9 918.8 433.1 919.0C435.3 919.2 437.1 919.7 439.7 920.6C442.3 921.5 445.6 923.1 448.6 924.3C451.6 925.6 454.5 927.2 457.5 927.9C460.4 928.6 463.2 929.0 466.3 928.8C469.4 928.5 473.4 927.3 476.1 926.4C478.8 925.5 480.2 924.3 482.3 923.4C484.4 922.5 486.3 921.5 488.4 920.9C490.4 920.3 492.6 919.9 494.6 919.7C496.7 919.5 498.6 919.4 500.7 919.7C502.8 920.0 504.8 920.8 506.9 921.7C508.9 922.6 510.9 924.0 513.0 925.0C515.0 926.0 517.2 926.9 519.2 927.5C521.2 928.1 523.2 928.6 525.3 928.9C527.3 929.2 529.5 929.3 531.5 929.1C533.5 928.9 535.6 928.5 537.6 927.9C539.6 927.3 541.4 926.4 543.8 925.4C546.2 924.4 549.3 922.7 552.0 921.7C554.7 920.8 557.6 920.1 560.2 919.7C562.8 919.3 564.9 919.3 567.6 919.5C570.4 919.6 573.6 920.0 576.5 920.6C579.5 921.1 582.4 922.2 585.4 922.8C588.3 923.4 591.3 923.9 594.3 924.3C597.2 924.8 600.2 925.2 603.1 925.7C606.1 926.2 609.0 926.8 612.0 927.2C615.0 927.7 617.9 928.0 620.9 928.3C623.8 928.6 626.0 928.9 629.7 929.0C633.4 929.1 637.9 929.0 643.0 929.0C648.2 929.0 656.6 929.0 660.8 929.0C665.0 929.0 665.9 929.4 668.2 929.1C670.5 928.8 672.2 927.8 674.3 927.0C676.3 926.2 678.1 925.4 680.5 924.4C682.9 923.4 686.0 922.1 688.7 921.3C691.4 920.5 694.2 920.0 696.9 919.7C699.6 919.4 702.4 919.3 705.1 919.3C707.8 919.3 710.6 919.7 713.3 919.9C716.0 920.1 718.8 920.5 721.5 920.5C724.2 920.5 727.0 920.5 729.7 920.1C732.4 919.8 735.2 919.0 737.9 918.4C740.6 917.8 743.4 916.9 746.1 916.2C748.8 915.6 751.6 914.7 754.3 914.5C757.0 914.3 759.3 914.4 762.1 915.0C764.9 915.7 768.0 916.9 771.0 918.4C773.9 919.8 776.9 922.3 779.8 923.9C782.8 925.5 785.7 927.1 788.7 927.9C791.6 928.7 794.6 929.0 797.6 928.8C800.5 928.6 803.5 927.9 806.4 926.6C809.4 925.2 812.3 922.3 815.3 920.6C818.3 918.8 821.2 917.3 824.2 916.1C827.1 915.0 830.1 914.5 833.0 913.9C836.0 913.4 839.0 912.9 841.9 912.8C844.9 912.7 847.5 913.0 850.8 913.3C854.0 913.6 859.6 914.4 861.4 914.6" stroke="#e80505"/>
  </g>
  <g fill="none" stroke="#1dab78" stroke-width="4" stroke-linecap="round" stroke-linejoin="round">
    <path d="M148.3 432.1C149.2 431.5 152.2 428.9 154.0 428.3C155.8 427.7 157.2 427.9 159.1 428.3C161.0 428.7 163.6 430.9 165.5 430.9C167.4 430.8 168.9 428.5 170.6 428.0C172.3 427.5 173.8 427.6 175.7 427.7C177.6 427.8 179.8 429.0 182.1 428.9C184.4 428.8 187.2 426.9 189.8 426.8C192.4 426.7 194.4 428.1 197.4 428.3C200.4 428.6 204.5 427.9 207.7 428.3C210.9 428.7 214.0 431.1 216.6 430.9C219.2 430.7 221.1 428.0 223.0 427.0C224.9 426.0 226.6 426.1 228.1 425.1C229.6 424.2 230.6 421.9 231.9 421.3C233.2 420.7 234.2 421.7 235.7 421.3C237.2 420.9 238.5 419.4 240.8 418.7C243.2 418.0 247.0 418.7 249.8 417.4C252.6 416.1 254.7 412.7 257.7 411.0C260.7 409.3 265.8 407.5 267.9 407.2C270.0 406.9 269.1 407.0 270.4 409.1C271.7 411.2 274.1 418.4 275.5 420.0C276.9 421.6 277.4 421.0 278.7 418.7C280.0 416.4 280.8 407.8 283.2 406.0C285.6 404.2 290.0 408.0 293.4 407.9C296.8 407.8 298.9 406.0 303.6 405.6C308.3 405.2 317.9 406.2 321.5 405.6C325.1 405.0 324.0 402.7 325.3 402.1C326.6 401.5 327.4 401.8 329.1 402.1C330.8 402.4 333.1 403.9 335.5 403.8C337.9 403.7 340.4 401.7 343.2 401.7C346.0 401.7 349.0 403.7 352.1 403.8C355.2 403.9 360.1 402.4 361.7 402.1"/>
    <path d="M147.9 514.4C148.7 513.9 150.9 511.7 152.8 511.1C154.7 510.5 157.0 510.4 159.1 510.6C161.2 510.8 163.6 512.3 165.5 512.1C167.4 511.9 169.1 510.1 170.6 509.6C172.1 509.1 173.5 510.3 174.5 508.9C175.5 507.5 175.6 502.7 176.4 501.3C177.2 499.9 178.4 500.2 179.6 500.6C180.8 501.0 181.7 502.1 183.4 503.4C185.1 504.7 187.2 507.1 189.8 508.3C192.4 509.5 195.7 510.3 198.7 510.6C201.7 510.9 204.7 509.9 207.7 510.2C210.7 510.5 214.0 512.7 216.6 512.5C219.2 512.3 221.2 509.6 223.0 508.9C224.8 508.1 225.9 508.9 227.4 508.0C228.9 507.1 230.5 504.2 231.9 503.4C233.3 502.6 234.2 503.8 235.7 503.4C237.2 503.0 238.2 501.7 240.8 501.0C243.4 500.3 249.0 500.3 251.1 499.1C253.2 497.9 252.8 496.3 253.4 494.0C254.0 491.7 254.0 487.1 254.7 485.3C255.4 483.5 256.4 483.3 257.5 483.4C258.6 483.5 260.2 485.0 261.5 486.0C262.8 487.0 263.8 488.9 265.3 489.4C266.8 489.9 268.0 489.5 270.4 488.9C272.8 488.3 276.8 485.7 279.4 485.6C281.9 485.5 283.4 487.8 285.7 488.5C288.0 489.2 290.4 489.9 293.4 489.8C296.4 489.7 300.2 487.9 303.6 487.6C307.0 487.3 310.8 488.0 313.8 487.9C316.8 487.8 319.7 487.7 321.5 487.0C323.3 486.3 323.4 484.3 324.7 483.8C326.0 483.3 327.3 483.4 329.1 483.8C330.9 484.2 333.1 486.0 335.5 486.0C337.9 486.0 340.4 483.8 343.2 483.8C346.0 483.8 349.0 486.0 352.1 486.0C355.2 486.0 360.1 484.3 361.7 484.0"/>
  </g>
</svg>
  
<svg class="abs" style="left:0;top:0" width="940" height="1172" viewBox="0 0 940 1172">
  <!-- handshake -->
  <g fill="none" stroke="#ababab" stroke-width="1.1" stroke-linecap="round" stroke-linejoin="round">
    <rect x="101.2" y="332.3" width="2.2" height="6.4" fill="#ababab" stroke="none"/>
    <rect x="117.3" y="332" width="2.4" height="7.4" fill="#ababab" stroke="none"/>
    <path d="M103.6 333L106.2 330.4Q110.3 329.2 114.6 330.6L117.2 333.2"/>
    <path d="M103.6 338.2L106.8 340.2Q110 341.4 113 340L117.2 337.6"/>
    <path d="M109 331.4L107.2 333.6Q108.2 335.6 110.4 334.2L111.6 333.4L115.2 337.4"/>
  </g>
  <!-- hand point right -->
  <g fill="none" stroke="#ababab" stroke-width="1.2" stroke-linecap="round" stroke-linejoin="round">
    <rect x="581.2" y="332.2" width="3.8" height="10.4" fill="#ababab" stroke="none"/>
    <circle cx="583.2" cy="340.8" r="0.8" fill="#fff" stroke="none"/>
    <path d="M585.4 333.4Q588 331.6 588.6 329.2Q589.6 327.2 591.4 327.6Q593.4 329.2 592.8 331.4H598Q600 331.6 599.8 333.8Q599.6 336 597.6 336H594.6Q595 338.4 593.6 340.6Q593.2 343 591 343H588Q586.4 342.6 585.4 341.6"/>
  </g>
  <!-- heart -->
  <path d="M590.5 424.6L583.6 417.8Q581 414.8 582.6 412.2Q584.6 409.6 588 410.8L590.5 412.8L593 410.8Q596.4 409.6 598.4 412.2Q600 414.8 597.4 417.8Z" fill="none" stroke="#ababab" stroke-width="1.15" stroke-linejoin="round"/>
  <!-- comments -->
  <g fill="none" stroke="#ababab" stroke-width="1.1" stroke-linecap="round" stroke-linejoin="round">
    <path d="M583.2 500.6Q581.2 498.2 581.8 496Q583.4 492.4 587.6 492.2Q592 492.4 593.2 496Q593.4 500.2 588.4 501.4Q586.4 501.6 585 501.2Q583.4 502.6 581.4 502.8Q582.8 501.8 583.2 500.6Z"/>
    <path d="M593.6 495.4Q599 496.2 599.6 500Q599.8 502.4 598 504Q598.4 505.4 599.6 506.4Q597.4 506.2 596 505Q592 505.6 589.4 503.6Q588.4 502.8 588 501.8"/>
  </g>
  <!-- sticky note -->
  <g fill="none" stroke="#ababab" stroke-width="1.4" stroke-linejoin="round">
    <path d="M104.1 596H116.5Q117.7 596 117.7 597.2V605.2Q117 609.6 112.2 610.7H104.1Q102.9 610.7 102.9 609.5V597.2Q102.9 596 104.1 596Z"/>
    <path d="M117.7 605.2H113.4Q112.2 605.2 112.2 606.4V610.7"/>
  </g>
</svg>

  <div class="dot" style="left:391.7px;top:411px;width:12.6px;height:12.6px;background:#1fad7b"></div>
  <div class="dot" style="left:391.7px;top:492.9px;width:12.6px;height:12.6px;background:#1fad7b"></div>
  <div class="dot" style="left:836.1px;top:597px;width:12.8px;height:12.8px;background:#bf2aa4"></div>

  <span class="t lb" id="t_ti">Total Interactions</span><span class="t" id="t_tiv">15.6m</span>
  <span class="t" id="t_a1">500k</span><span class="t" id="t_a2">300k</span><span class="t" id="t_a3">100k</span>
  <span class="t" id="t_b1">15k</span><span class="t" id="t_b2">10k</span><span class="t" id="t_b3">5k</span>
  <span class="t lb" id="t_likes">Likes</span><span class="t lb" id="t_comm">Comments</span>
  <span class="t lb" id="t_er">Engagement Rate</span><span class="t" id="t_erv">3.12%</span>
  <span class="t lb" id="t_tl">Total Likes</span><span class="t" id="t_tlv">32.4m</span>
  <span class="t lb" id="t_tc">Total Comments</span><span class="t" id="t_tcv">1.2m</span>
  <span class="t lb" id="t_pot">Postings over time</span><span class="t lb" id="t_ig">Instagram</span>
  <span class="t" id="t_y50">50</span><span class="t" id="t_y40">40</span><span class="t" id="t_y30">30</span><span class="t" id="t_y20">20</span><span class="t" id="t_y10">10</span><span class="t" id="t_y0">0</span>
  <span class="t" id="t_x1">01.01.2020</span><span class="t" id="t_x2">08.01.2020</span><span class="t" id="t_x3">15.01.2020</span><span class="t" id="t_x4">22.01.2020</span>
</div>
</body>
</html>
